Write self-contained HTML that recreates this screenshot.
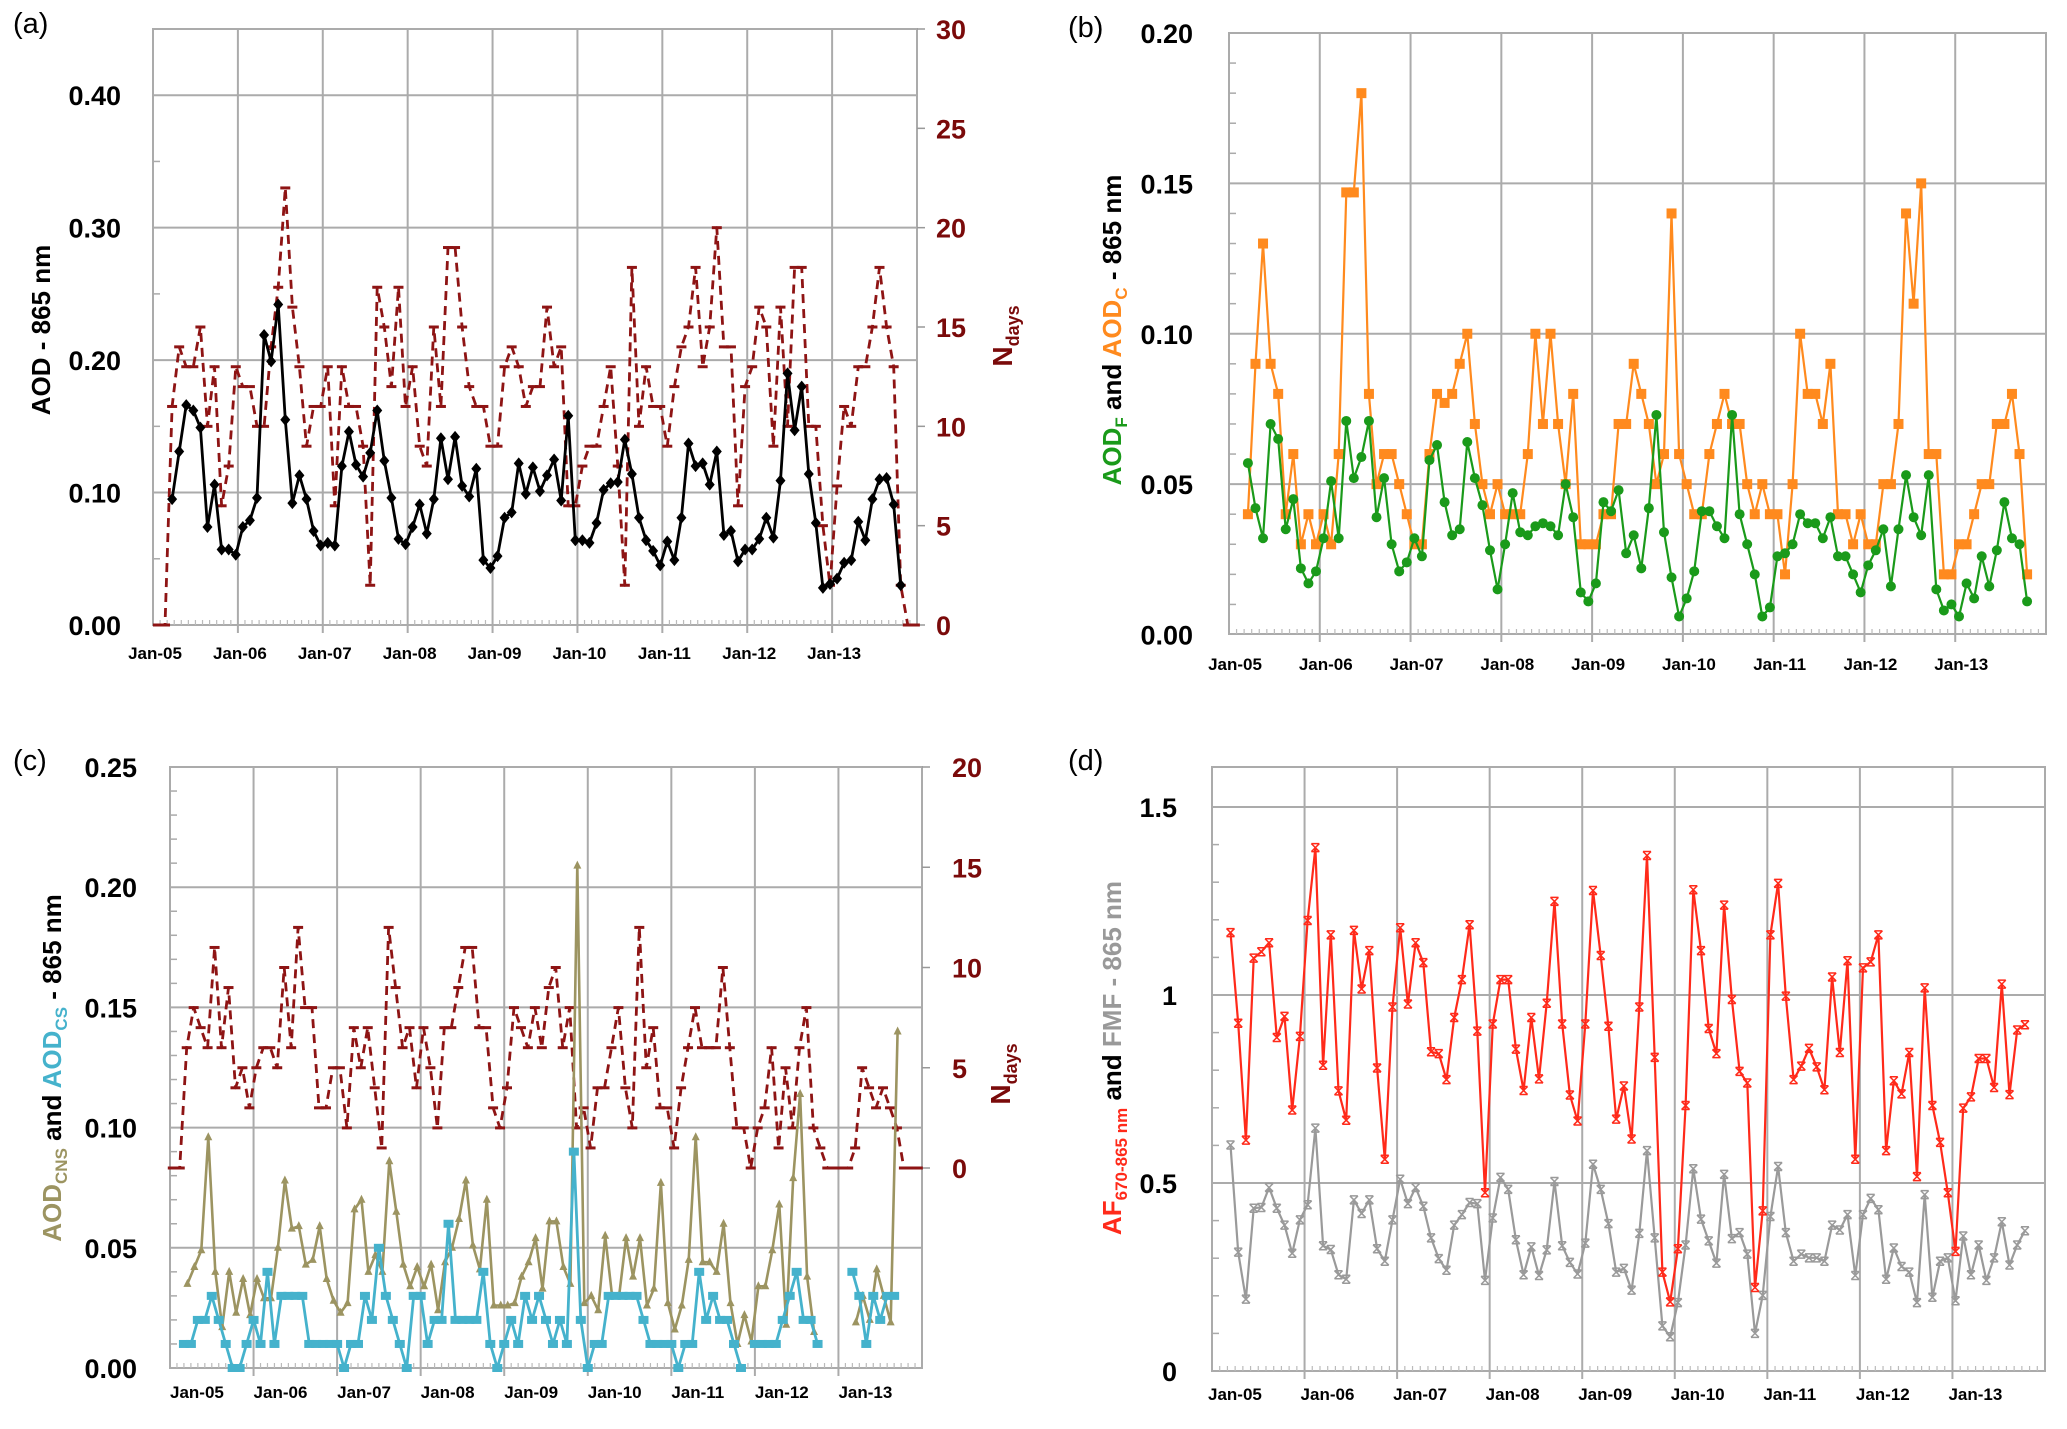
<!DOCTYPE html>
<html><head><meta charset="utf-8"><title>AOD time series</title>
<style>
html,body{margin:0;padding:0;background:#fff;}
svg{display:block;font-family:"Liberation Sans",sans-serif;}
.tk{font-weight:bold;font-size:27px;fill:#000;}
.xl{font-weight:bold;font-size:17px;fill:#000;}
.rt{font-weight:bold;font-size:27px;fill:#7a0a0a;}
.pl{font-size:29px;fill:#000;}
</style></head>
<body>
<svg id="chart" width="2067" height="1429" viewBox="0 0 2067 1429" xmlns="http://www.w3.org/2000/svg">
<rect x="0" y="0" width="2067" height="1429" fill="#fff"/>
<text class="pl" x="13" y="33">(a)</text>
<text class="pl" x="1068" y="37">(b)</text>
<text class="pl" x="13" y="770">(c)</text>
<text class="pl" x="1068" y="770">(d)</text>
<text x="50" y="330" transform="rotate(-90 50 330)" text-anchor="middle" font-weight="bold" font-size="26">AOD - 865 nm</text>
<text x="1012" y="336" transform="rotate(-90 1012 336)" text-anchor="middle" font-weight="bold" font-size="28" fill="#7a0a0a">N<tspan font-size="18" dy="7">days</tspan></text>
<text x="1121" y="330" transform="rotate(-90 1121 330)" text-anchor="middle" font-weight="bold" font-size="26"><tspan fill="#1a9a1a">AOD</tspan><tspan fill="#1a9a1a" font-size="17" dy="6">F</tspan><tspan dy="-6"> and </tspan><tspan fill="#ff8a1e">AOD</tspan><tspan fill="#ff8a1e" font-size="17" dy="6">C</tspan><tspan dy="-6"> - 865 nm</tspan></text>
<text x="61" y="1068" transform="rotate(-90 61 1068)" text-anchor="middle" font-weight="bold" font-size="26"><tspan fill="#9c9461">AOD</tspan><tspan fill="#9c9461" font-size="17" dy="6">CNS</tspan><tspan dy="-6"> and </tspan><tspan fill="#45b2cc">AOD</tspan><tspan fill="#45b2cc" font-size="17" dy="6">CS</tspan><tspan dy="-6"> - 865 nm</tspan></text>
<text x="1010" y="1074" transform="rotate(-90 1010 1074)" text-anchor="middle" font-weight="bold" font-size="28" fill="#7a0a0a">N<tspan font-size="18" dy="7">days</tspan></text>
<text x="1121" y="1058" transform="rotate(-90 1121 1058)" text-anchor="middle" font-weight="bold" font-size="26"><tspan fill="#ff2a1a">AF</tspan><tspan fill="#ff2a1a" font-size="17" dy="6">670-865 nm</tspan><tspan dy="-6"> and </tspan><tspan fill="#999">FMF - 865 nm</tspan></text>
</svg>
<script>
// ---------- data ----------
const yearLabels = ["Jan-05","Jan-06","Jan-07","Jan-08","Jan-09","Jan-10","Jan-11","Jan-12","Jan-13"];
const aTickLabels = ["0.00","0.10","0.20","0.30","0.40"];
const aTickValues = [0,0.1,0.2,0.3,0.4];
const aRightTicks = [0,5,10,15,20,25,30];
const bTickLabels = ["0.00","0.05","0.10","0.15","0.20"];
const bTickValues = [0,0.05,0.1,0.15,0.2];
const cTickLabels = ["0.00","0.05","0.10","0.15","0.20","0.25"];
const cTickValues = [0,0.05,0.1,0.15,0.2,0.25];
const cRightTicks = [0,5,10,15,20];
const dTickLabels = ["0","0.5","1","1.5"];
const dTickValues = [0,0.5,1,1.5];

const aStart = 2.7;
const aAOD = [0.095,0.131,0.166,0.162,0.149,0.074,0.106,0.057,0.057,0.053,
0.074,0.079,0.096,0.219,0.199,0.242,0.155,0.092,0.113,0.095,
0.071,0.060,0.062,0.060,0.120,0.146,0.121,0.112,0.130,0.162,
0.124,0.096,0.065,0.061,0.074,0.091,0.069,0.095,0.141,0.110,
0.142,0.105,0.097,0.118,0.049,0.043,0.052,0.081,0.085,0.122,
0.099,0.119,0.101,0.113,0.125,0.094,0.158,0.064,0.064,0.062,
0.077,0.102,0.107,0.108,0.140,0.114,0.081,0.064,0.056,0.045,
0.063,0.049,0.081,0.137,0.120,0.122,0.106,0.131,0.068,0.071,
0.048,0.057,0.057,0.065,0.081,0.066,0.109,0.190,0.147,0.180,
0.114,0.077,0.028,0.031,0.035,0.047,0.049,0.078,0.064,0.095,
0.110,0.111,0.091,0.030];
const aNStart = 0.7;
const aNdays = [0,0,11,14,13,13,15,10,13,6,8,13,12,12,10,10,14,17,22,16,13,9,
11,11,13,6,13,11,11,9,2,17,15,12,17,11,13,9,8,15,11,19,
19,15,12,11,11,9,9,13,14,13,11,12,12,16,13,14,6,6,8,9,
9,11,13,8,2,18,10,13,11,11,9,12,14,15,18,13,15,20,14,14,
6,12,13,16,15,9,16,10,18,18,10,10,5,2,7,11,10,13,13,15,
18,15,13,2,0,0];

const bStart = 2.5;
const bAODC = [0.040,0.090,0.130,0.090,0.080,0.040,0.060,0.030,0.040,0.030,
0.040,0.030,0.060,0.147,0.147,0.180,0.080,0.050,0.060,0.060,
0.050,0.040,0.030,0.030,0.060,0.080,0.077,0.080,0.090,0.100,
0.070,0.050,0.040,0.050,0.040,0.040,0.040,0.060,0.100,0.070,
0.100,0.070,0.050,0.080,0.030,0.030,0.030,0.040,0.040,0.070,
0.070,0.090,0.080,0.070,0.050,0.060,0.140,0.060,0.050,0.040,
0.040,0.060,0.070,0.080,0.070,0.070,0.050,0.040,0.050,0.040,
0.040,0.020,0.050,0.100,0.080,0.080,0.070,0.090,0.040,0.040,
0.030,0.040,0.030,0.030,0.050,0.050,0.070,0.140,0.110,0.150,
0.060,0.060,0.020,0.020,0.030,0.030,0.040,0.050,0.050,0.070,
0.070,0.080,0.060,0.020];
const bAODF = [0.057,0.042,0.032,0.070,0.065,0.035,0.045,0.022,0.017,0.021,
0.032,0.051,0.032,0.071,0.052,0.059,0.071,0.039,0.052,0.030,
0.021,0.024,0.032,0.026,0.058,0.063,0.044,0.033,0.035,0.064,
0.052,0.043,0.028,0.015,0.030,0.047,0.034,0.033,0.036,0.037,
0.036,0.033,0.050,0.039,0.014,0.011,0.017,0.044,0.041,0.048,
0.027,0.033,0.022,0.042,0.073,0.034,0.019,0.006,0.012,0.021,
0.041,0.041,0.036,0.032,0.073,0.040,0.030,0.020,0.006,0.009,
0.026,0.027,0.030,0.040,0.037,0.037,0.032,0.039,0.026,0.026,
0.020,0.014,0.023,0.028,0.035,0.016,0.035,0.053,0.039,0.033,
0.053,0.015,0.008,0.010,0.006,0.017,0.012,0.026,0.016,0.028,
0.044,0.032,0.030,0.011];

const cNStart = 0.4;
const cNdays = [0,0,6,8,7,6,11,6,9,4,5,3,5,6,6,5,10,6,12,8,
8,3,3,5,5,2,7,5,7,4,1,12,9,6,7,4,7,5,2,7,
7,9,11,11,7,7,3,2,4,8,7,6,8,6,9,10,6,8,2,3,
1,4,4,6,8,4,2,12,5,7,3,3,1,4,6,8,6,6,6,10,
6,2,2,0,2,3,6,1,5,2,6,8,2,1,0,0,0,0,1,5,
4,3,4,3,2,0,0,0];
const cCNSStart = 2.5;
const cCNS = [0.035,0.042,0.049,0.096,0.040,0.017,0.040,0.023,0.037,0.022,
0.037,0.029,0.029,0.050,0.078,0.058,0.059,0.043,0.045,0.059,
0.037,0.028,0.023,0.027,0.066,0.070,0.040,0.047,0.040,0.086,
0.065,0.043,0.034,0.042,0.034,0.043,0.024,0.044,0.050,0.062,
0.078,0.051,0.041,0.070,0.026,0.026,0.026,0.027,0.038,0.044,
0.054,0.033,0.061,0.061,0.042,0.035,0.209,0.027,0.030,0.024,
0.055,0.030,0.030,0.054,0.038,0.054,0.026,0.033,0.077,0.027,
0.016,0.026,0.045,0.096,0.044,0.044,0.040,0.060,0.027,0.010,
0.022,0.011,0.034,0.034,0.049,0.068,0.018,0.079,0.114,0.038,
0.015,null,null,null,null,null,0.019,0.030,0.020,0.041,
0.030,0.019,0.140];
const cCSStart = 2.0;
const cCS = [0.01,0.01,0.02,0.02,0.03,0.02,0.01,0.00,0.00,0.01,
0.02,0.01,0.04,0.01,0.03,0.03,0.03,0.03,0.01,0.01,
0.01,0.01,0.01,0.00,0.01,0.01,0.03,0.02,0.05,0.03,
0.02,0.01,0.00,0.03,0.03,0.01,0.02,0.02,0.06,0.02,
0.02,0.02,0.02,0.04,0.01,0.00,0.01,0.02,0.01,0.03,
0.02,0.03,0.02,0.01,0.02,0.01,0.09,0.02,0.00,0.01,
0.01,0.03,0.03,0.03,0.03,0.03,0.02,0.01,0.01,0.01,
0.01,0.00,0.01,0.01,0.04,0.02,0.03,0.02,0.02,0.01,
0.00,null,0.01,0.01,0.01,0.01,0.02,0.03,0.04,0.02,
0.02,0.01,null,null,null,null,0.04,0.03,0.01,0.03,
0.02,0.03,0.03];

const dStart = 2.4;
const dAF = [1.166,0.925,0.614,1.098,1.115,1.139,0.887,0.943,0.694,0.890,
1.198,1.392,0.813,1.160,0.745,0.667,1.172,1.016,1.118,0.806,
0.563,0.968,1.179,0.976,1.139,1.086,0.849,0.844,0.775,0.940,
1.041,1.187,0.904,0.474,0.923,1.041,1.041,0.856,0.746,0.940,
0.777,0.978,1.249,0.923,0.734,0.665,0.923,1.278,1.105,0.917,
0.670,0.758,0.617,0.968,1.371,0.834,0.263,0.184,0.325,0.706,
1.280,1.118,0.911,0.844,1.239,0.988,0.797,0.766,0.222,0.426,
1.160,1.297,0.997,0.775,0.811,0.858,0.809,0.748,1.048,0.847,
1.091,0.563,1.072,1.088,1.160,0.586,0.772,0.737,0.847,0.517,
1.019,0.706,0.608,0.474,0.318,0.699,0.729,0.831,0.831,0.754,
1.029,0.735,0.907,0.921];
const dFMF = [0.601,0.316,0.191,0.433,0.435,0.488,0.433,0.388,0.313,0.402,
0.442,0.646,0.333,0.323,0.256,0.244,0.455,0.419,0.455,0.325,
0.292,0.402,0.510,0.445,0.488,0.438,0.354,0.299,0.268,0.388,
0.416,0.448,0.445,0.241,0.407,0.515,0.483,0.349,0.256,0.330,
0.254,0.322,0.504,0.333,0.289,0.258,0.340,0.550,0.483,0.392,
0.263,0.273,0.215,0.366,0.586,0.354,0.120,0.091,0.182,0.335,
0.538,0.404,0.346,0.287,0.523,0.352,0.368,0.311,0.100,0.201,
0.411,0.544,0.368,0.292,0.311,0.301,0.301,0.292,0.388,0.375,
0.416,0.254,0.416,0.459,0.429,0.244,0.327,0.278,0.263,0.182,
0.469,0.196,0.292,0.301,0.187,0.359,0.256,0.335,0.241,0.301,
0.397,0.282,0.335,0.373];

// ---------- helpers ----------
const NS = 'http://www.w3.org/2000/svg';
const svg = document.getElementById('chart');
function lin(d0, d1, r0, r1) { return v => r0 + (v - d0) * (r1 - r0) / (d1 - d0); }
function add(tag, attrs, name, parent) {
  const el = document.createElementNS(NS, tag);
  for (const k in attrs) el.setAttribute(k, attrs[k]);
  
  
  (parent || svg).appendChild(el);
  return el;
}
function txt(str, attrs, name) { const t = add('text', attrs, name); t.textContent = str; return t; }

const GRID = '#ababab';
function frame(p, key) {
  const g = add('g', {}, key + '-axes');
  // horizontal gridlines
  p.gridVals.forEach(v => {
    add('line', {x1: p.x0, x2: p.x1, y1: p.ys(v), y2: p.ys(v), stroke: GRID, 'stroke-width': 2}, key + '-gridline-h', g);
  });
  // vertical year gridlines
  for (let y = 1; y < 9; y++) {
    const x = p.xs(y * 12);
    add('line', {x1: x, x2: x, y1: p.yT, y2: p.yB + 8, stroke: GRID, 'stroke-width': 2}, key + '-gridline-v', g);
  }
  add('rect', {x: p.x0, y: p.yT, width: p.x1 - p.x0, height: p.yB - p.yT, fill: 'none', stroke: GRID, 'stroke-width': 2}, key + '-plot-frame', g);
  // monthly minor ticks
  for (let m = 1; m < 108; m++) {
    if (m % 12 === 0) continue;
    const x = p.xs(m);
    add('line', {x1: x, x2: x, y1: p.yB, y2: p.yB - 5, stroke: '#bbb', 'stroke-width': 1.2}, key + '-minor-tick', g);
  }
  // left minor ticks
  p.minor.forEach(v => {
    add('line', {x1: p.x0, x2: p.x0 + 7, y1: p.ys(v), y2: p.ys(v), stroke: '#aaa', 'stroke-width': 1.5}, key + '-y-minor-tick', g);
  });
  // tick labels
  p.tickValues.forEach((v, i) => {
    txt(p.tickLabels[i], {x: p.labX, y: p.ys(v) + 10, 'text-anchor': 'end', class: 'tk'}, key + '-y-tick-label');
  });
  yearLabels.forEach((lab, i) => {
    txt(lab, {x: p.xs(i * 12) + p.xlOff, y: p.xlY, 'text-anchor': p.xlAnchor, class: 'xl'}, key + '-x-tick-label');
  });
}
function line(vals, start, xs, ys, attrs, name) {
  let d = '', pen = false;
  vals.forEach((v, i) => {
    if (v === null) { pen = false; return; }
    d += (pen ? 'L' : 'M') + xs(start + i).toFixed(1) + ',' + ys(v).toFixed(1);
    pen = true;
  });
  const a = Object.assign({d: d, fill: 'none', 'stroke-linejoin': 'round'}, attrs);
  return add('path', a, name);
}
function markers(vals, start, xs, ys, kind, color, name) {
  const g = add('g', {}, name + '-markers');
  vals.forEach((v, i) => {
    if (v === null) return;
    const x = xs(start + i), y = ys(v);
    if (kind === 'diamond') add('polygon', {points: `${x},${y-6} ${x+5},${y} ${x},${y+6} ${x-5},${y}`, fill: color}, name + '-point', g);
    else if (kind === 'square') add('rect', {x: x - 5, y: y - 5, width: 10, height: 10, fill: color}, name + '-point', g);
    else if (kind === 'bar') add('rect', {x: x - 5, y: y - 4, width: 10, height: 8, fill: color}, name + '-point', g);
    else if (kind === 'circle') add('circle', {cx: x, cy: y, r: 5, fill: color}, name + '-point', g);
    else if (kind === 'tri') add('polygon', {points: `${x},${y-5} ${x+4},${y+3} ${x-4},${y+3}`, fill: color}, name + '-point', g);
    else if (kind === 'dash') add('line', {x1: x - 5, x2: x + 5, y1: y, y2: y, stroke: color, 'stroke-width': 3}, name + '-point', g);
    else if (kind === 'x') add('path', {d: `M${x-4},${y-4}L${x+4},${y+4}M${x-4},${y+4}L${x+4},${y-4}M${x-4},${y-4}L${x+4},${y-4}M${x-4},${y+4}L${x+4},${y+4}`, stroke: color, 'stroke-width': 1.5, fill: 'none'}, name + '-point', g);
  });
}
function rightAxis(p, ticks, rs, labX, key) {
  ticks.forEach(v => {
    add('line', {x1: p.x1, x2: p.x1 + 8, y1: rs(v), y2: rs(v), stroke: '#999', 'stroke-width': 1.5}, key + '-right-tick', svg);
    txt(String(v), {x: labX, y: rs(v) + 10, class: 'rt'}, key + '-right-tick-label');
  });
}

// ---------- panel a ----------
const PA = {x0: 153, x1: 917, yT: 29, yB: 625};
PA.xs = lin(0, 108, PA.x0, PA.x1);
PA.ys = lin(0, 0.45, 625, 29);
const yAN = lin(0, 30, 625, 29);
PA.gridVals = [0.1, 0.2, 0.3, 0.4];
PA.minor = [0.05, 0.15, 0.25, 0.35];
PA.tickValues = aTickValues; PA.tickLabels = aTickLabels;
PA.labX = 121; PA.xlY = 659; PA.xlOff = 2; PA.xlAnchor = 'middle';
frame(PA, 'panel-a');
rightAxis(PA, aRightTicks, yAN, 936, 'panel-a');
line(aNdays, aNStart, PA.xs, yAN, {stroke: '#8e1414', 'stroke-width': 2.8, 'stroke-dasharray': '9 6'}, 'panel-a-ndays-line');
markers(aNdays, aNStart, PA.xs, yAN, 'dash', '#8e1414', 'panel-a-ndays');
line(aAOD, aStart, PA.xs, PA.ys, {stroke: '#000', 'stroke-width': 2.8}, 'panel-a-aod-line');
markers(aAOD, aStart, PA.xs, PA.ys, 'diamond', '#000', 'panel-a-aod');

// ---------- panel b ----------
const PB = {x0: 1229, x1: 2046, yT: 33, yB: 634};
PB.xs = lin(0, 108, PB.x0, PB.x1);
PB.ys = lin(0, 0.2, 634.5, 33);
PB.gridVals = [0.05, 0.1, 0.15];
PB.minor = [0.01,0.02,0.03,0.04,0.06,0.07,0.08,0.09,0.11,0.12,0.13,0.14,0.16,0.17,0.18,0.19];
PB.tickValues = bTickValues; PB.tickLabels = bTickLabels;
PB.labX = 1193; PB.xlY = 670; PB.xlOff = 6; PB.xlAnchor = 'middle';
frame(PB, 'panel-b');
line(bAODC, bStart, PB.xs, PB.ys, {stroke: '#ff8a1e', 'stroke-width': 2.2}, 'panel-b-aodc-line');
markers(bAODC, bStart, PB.xs, PB.ys, 'square', '#ff8a1e', 'panel-b-aodc');
line(bAODF, bStart, PB.xs, PB.ys, {stroke: '#1a9a1a', 'stroke-width': 2.2}, 'panel-b-aodf-line');
markers(bAODF, bStart, PB.xs, PB.ys, 'circle', '#1a9a1a', 'panel-b-aodf');

// ---------- panel c ----------
const PC = {x0: 170, x1: 922, yT: 767, yB: 1368};
PC.xs = lin(0, 108, PC.x0, PC.x1);
PC.ys = lin(0, 0.25, 1368, 767);
const yCN = lin(0, 20, 1168, 767);
PC.gridVals = [0.05, 0.1, 0.15, 0.2];
PC.minor = [0.01,0.02,0.03,0.04,0.06,0.07,0.08,0.09,0.11,0.12,0.13,0.14,0.16,0.17,0.18,0.19,0.21,0.22,0.23,0.24];
PC.tickValues = cTickValues; PC.tickLabels = cTickLabels;
PC.labX = 137; PC.xlY = 1398; PC.xlOff = 0; PC.xlAnchor = 'start';
frame(PC, 'panel-c');
rightAxis(PC, cRightTicks, yCN, 952, 'panel-c');
line(cNdays, cNStart, PC.xs, yCN, {stroke: '#8e1414', 'stroke-width': 2.8, 'stroke-dasharray': '9 6'}, 'panel-c-ndays-line');
markers(cNdays, cNStart, PC.xs, yCN, 'dash', '#8e1414', 'panel-c-ndays');
line(cCNS, cCNSStart, PC.xs, PC.ys, {stroke: '#9c9461', 'stroke-width': 2.6}, 'panel-c-aodcns-line');
markers(cCNS, cCNSStart, PC.xs, PC.ys, 'tri', '#9c9461', 'panel-c-aodcns');
line(cCS, cCSStart, PC.xs, PC.ys, {stroke: '#45b2cc', 'stroke-width': 2.8}, 'panel-c-aodcs-line');
markers(cCS, cCSStart, PC.xs, PC.ys, 'bar', '#45b2cc', 'panel-c-aodcs');

// ---------- panel d ----------
const PD = {x0: 1212, x1: 2045, yT: 767, yB: 1371};
PD.xs = lin(0, 108, PD.x0, PD.x1);
PD.ys = lin(0, 1.6, 1371, 769.4);
PD.gridVals = [0.5, 1.0, 1.5];
PD.minor = [0.1,0.2,0.3,0.4,0.6,0.7,0.8,0.9,1.1,1.2,1.3,1.4];
PD.tickValues = dTickValues; PD.tickLabels = dTickLabels;
PD.labX = 1177; PD.xlY = 1400; PD.xlOff = -4; PD.xlAnchor = 'start';
frame(PD, 'panel-d');
line(dFMF, dStart, PD.xs, PD.ys, {stroke: '#9a9a9a', 'stroke-width': 2.2}, 'panel-d-fmf-line');
markers(dFMF, dStart, PD.xs, PD.ys, 'x', '#9a9a9a', 'panel-d-fmf');
line(dAF, dStart, PD.xs, PD.ys, {stroke: '#ff2a1a', 'stroke-width': 2.2}, 'panel-d-af-line');
markers(dAF, dStart, PD.xs, PD.ys, 'x', '#ff2a1a', 'panel-d-af');
</script>
</body></html>
